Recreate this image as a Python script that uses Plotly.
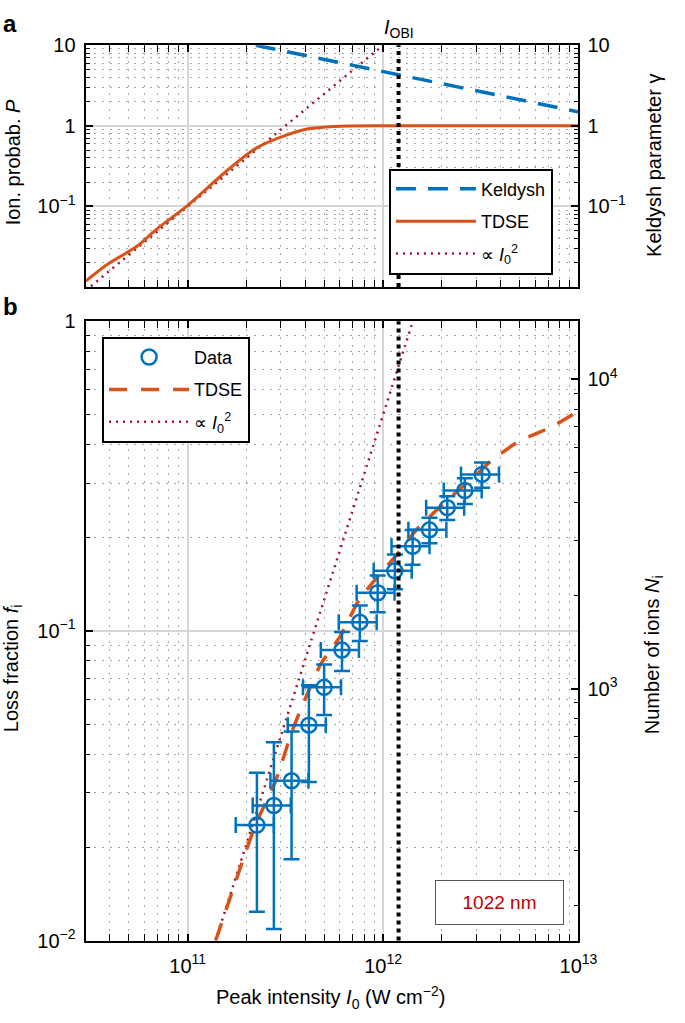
import numpy as np
import plotly.graph_objects as go

# ---------------- data: panel a ----------------
tdse_a_I = [3.0e10, 3.87e10, 4.70e10, 5.64e10, 6.86e10, 1.0e11, 1.58e11, 2.23e11,
            3.04e11, 4.14e11, 6.04e11, 1.0e12, 3.0e12, 1.0e13]
tdse_a_P = [0.0118, 0.019, 0.0252, 0.0334, 0.051, 0.103, 0.275, 0.525,
            0.734, 0.918, 0.99, 1.0, 1.0, 1.0]
keldysh_I = [2.23e11, 1.0e12, 1.0e13]
keldysh_gamma = [10.0, 4.72, 1.49]
prop_a_I = [3.0e10, 1.0e12]
prop_a_P = [0.009, 10.0]

# ---------------- data: panel b ----------------
data_I = [2.26e11, 2.76e11, 3.40e11, 4.17e11, 4.99e11, 6.16e11, 7.60e11, 9.38e11,
          1.148e12, 1.416e12, 1.727e12, 2.13e12, 2.62e12, 3.21e12]
data_f = [0.0236, 0.0273, 0.0328, 0.0496, 0.0657, 0.0867, 0.1067, 0.1328,
          0.1563, 0.1876, 0.212, 0.250, 0.284, 0.320]
data_f_err = [0.0112, 0.0164, 0.0145, 0.0171, 0.0122, 0.0125, 0.014, 0.018,
              0.020, 0.024, 0.020, 0.022, 0.027, 0.030]
data_I_err = [0.50e11, 0.61e11, 0.75e11, 0.92e11, 1.10e11, 1.36e11, 1.67e11, 2.06e11,
              2.53e11, 3.12e11, 3.80e11, 4.69e11, 5.76e11, 7.06e11]
tdse_b_I = [1.39e11, 2.23e11, 2.81e11, 3.47e11, 4.79e11, 6.03e11, 7.59e11, 1.20e12,
            1.48e12, 2.04e12, 3.02e12, 3.55e12, 4.90e12, 7.24e12, 1.0e13]
tdse_b_f = [0.01, 0.0238, 0.0326, 0.0486, 0.078, 0.096, 0.127, 0.179,
            0.212, 0.258, 0.321, 0.353, 0.408, 0.455, 0.512]
prop_b_I = [1.39e11, 1.42e12]
prop_b_f = [0.01, 1.0]

I_OBI = 1.2e12
IONS_PER_UNIT_FRACTION = 15370.0

x_tickvals = [1e11, 1e12, 1e13]
x_ticktext = ["10<sup>11</sup>", "10<sup>12</sup>", "10<sup>13</sup>"]
ya_tickvals = [0.1, 1, 10]
ya_ticktext = ["10<sup>\u22121</sup>", "1", "10"]
yb_tickvals = [0.01, 0.1, 1]
yb_ticktext = ["10<sup>\u22122</sup>", "10<sup>\u22121</sup>", "1"]
yn_tickvals = [1e3, 1e4]
yn_ticktext = ["10<sup>3</sup>", "10<sup>4</sup>"]

# ---------------- style ----------------
W, H = 685, 1023
BLUE = "#0072BD"
ORANGE = "#D95319"
DRED = "#A2142F"
FONT = "Liberation Sans, Arial, Helvetica, sans-serif"


def px(x):
    return x / W


def py(y):
    return 1 - y / H


minor_common = dict(ticks="inside", ticklen=4, tickwidth=1.2, tickcolor="black",
                    dtick="D1", showgrid=True, gridcolor="#a8a8a8",
                    griddash="2px,6px", gridwidth=1.3)
axis_common = dict(type="log", showline=True, linecolor="black", linewidth=2,
                   ticks="inside", ticklen=7, tickwidth=1.5, tickcolor="black",
                   showgrid=True, gridcolor="#d6d6d6", gridwidth=1.5,
                   zeroline=False, tickfont=dict(size=20, color="black", family=FONT),
                   minor=minor_common)

x_range = [np.log10(3e10), 13]

fig = go.Figure()

# panel a
fig.add_trace(go.Scatter(x=prop_a_I, y=prop_a_P, mode="lines", xaxis="x", yaxis="y",
                         line=dict(color=DRED, width=2.5, dash="2px,5px"),
                         name="\u221d <i>I</i><sub>0</sub><sup>2</sup>",
                         legend="legend", legendrank=3, legendgroup="a3"))
fig.add_trace(go.Scatter(x=tdse_a_I, y=tdse_a_P, mode="lines", xaxis="x", yaxis="y",
                         line=dict(color=ORANGE, width=3, shape="spline", smoothing=0.6),
                         name="TDSE", legend="legend", legendrank=2, legendgroup="a2"))
fig.add_trace(go.Scatter(x=keldysh_I, y=keldysh_gamma, mode="lines", xaxis="x", yaxis="y3",
                         line=dict(color=BLUE, width=3.5, dash="20px,12px"),
                         name="Keldysh", legend="legend", legendrank=1, legendgroup="a1"))

# panel b
fig.add_trace(go.Scatter(x=prop_b_I, y=prop_b_f, mode="lines", xaxis="x2", yaxis="y2",
                         line=dict(color=DRED, width=2.5, dash="2px,5px"),
                         name="\u221d <i>I</i><sub>0</sub><sup>2</sup>",
                         legend="legend2", legendrank=3, legendgroup="b3"))
fig.add_trace(go.Scatter(x=tdse_b_I, y=tdse_b_f, mode="lines", xaxis="x2", yaxis="y2",
                         line=dict(color=ORANGE, width=3.5, dash="18px,14px", shape="spline",
                                   smoothing=0.5),
                         name="TDSE", legend="legend2", legendrank=2, legendgroup="b2"))
fig.add_trace(go.Scatter(x=data_I, y=data_f, mode="markers", xaxis="x2", yaxis="y2",
                         marker=dict(symbol="circle-open", size=15, color=BLUE,
                                     line=dict(width=2.5, color=BLUE)),
                         error_y=dict(type="data", array=data_f_err, color=BLUE,
                                      thickness=2.5, width=8),
                         error_x=dict(type="data", array=data_I_err, color=BLUE,
                                      thickness=2.5, width=8),
                         name="Data", legend="legend2", legendrank=1, legendgroup="b1"))
# invisible trace carrying the ion-number axis
fig.add_trace(go.Scatter(x=data_I, y=[f * IONS_PER_UNIT_FRACTION for f in data_f],
                         mode="markers", xaxis="x2", yaxis="y4",
                         marker=dict(opacity=0), showlegend=False, hoverinfo="skip"))

dom_x = [px(88), px(595)]
fig.update_layout(
    width=W, height=H, margin=dict(l=0, r=0, t=0, b=0),
    paper_bgcolor="white", plot_bgcolor="white",
    font=dict(family=FONT, color="black", size=18),
    xaxis=dict(axis_common, domain=dom_x, anchor="y", range=x_range,
               tickvals=x_tickvals, ticktext=x_ticktext, showticklabels=False,
               mirror="allticks"),
    yaxis=dict(axis_common, domain=[py(282), py(35)], anchor="x", range=[-2, 1],
               tickvals=ya_tickvals, ticktext=ya_ticktext, mirror="allticks",
               ticklabelstandoff=4),
    yaxis3=dict(type="log", overlaying="y", side="right", anchor="x", range=[-2, 1],
                tickvals=ya_tickvals, ticktext=ya_ticktext, ticks="", showgrid=False,
                showline=False, zeroline=False, ticklabelstandoff=8,
                tickfont=dict(size=20, color="black", family=FONT)),
    xaxis2=dict(axis_common, domain=dom_x, anchor="y2", range=x_range,
                tickvals=x_tickvals, ticktext=x_ticktext, mirror="allticks",
                ticklabelstandoff=6),
    yaxis2=dict(axis_common, domain=[py(950), py(317)], anchor="x2", range=[-2, 0],
                tickvals=yb_tickvals, ticktext=yb_ticktext, mirror=True,
                ticklabelstandoff=4),
    yaxis4=dict(type="log", overlaying="y2", side="right", anchor="x2",
                range=[np.log10(0.01 * IONS_PER_UNIT_FRACTION), np.log10(IONS_PER_UNIT_FRACTION)],
                tickvals=yn_tickvals, ticktext=yn_ticktext, ticks="inside", ticklen=7,
                tickwidth=1.5, tickcolor="black", showgrid=False, showline=False,
                zeroline=False, ticklabelstandoff=8,
                minor=dict(ticks="inside", ticklen=4, tickwidth=1.2, tickcolor="black",
                           dtick="D1", showgrid=False),
                tickfont=dict(size=20, color="black", family=FONT)),
    legend=dict(x=px(400), y=py(161), xanchor="left", yanchor="top", bgcolor="white",
                bordercolor="black", borderwidth=2, font=dict(size=18, family=FONT),
                itemwidth=80, tracegroupgap=6),
    legend2=dict(x=px(105), y=py(333), xanchor="left", yanchor="top", bgcolor="white",
                 bordercolor="black", borderwidth=2, font=dict(size=18, family=FONT),
                 itemwidth=80, tracegroupgap=6),
    showlegend=True,
)

# I_OBI vertical markers
for xr, yr in [("x", "y domain"), ("x2", "y2 domain")]:
    fig.add_shape(type="line", xref=xr, yref=yr, x0=I_OBI, x1=I_OBI, y0=0, y1=1,
                  line=dict(color="black", width=4, dash="4px,4px"), layer="above")

ann = [
    dict(text="<b>a</b>", x=px(1), y=py(-3), xanchor="left", yanchor="top",
         font=dict(size=24)),
    dict(text="<b>b</b>", x=px(1), y=py(286), xanchor="left", yanchor="top",
         font=dict(size=24)),
    dict(text="<i>I</i><sub>OBI</sub>", x=np.log10(I_OBI), xref="x", y=py(18),
         xanchor="center", yanchor="middle", font=dict(size=20)),
    dict(text="Ion. probab. <i>P</i>", x=px(13), y=py(155), textangle=-90,
         xanchor="center", yanchor="middle", font=dict(size=20)),
    dict(text="Keldysh parameter \u03b3", x=px(672), y=py(158), textangle=-90,
         xanchor="center", yanchor="middle", font=dict(size=20)),
    dict(text="Loss fraction <i>f</i><sub>i</sub>", x=px(13), y=py(672), textangle=-90,
         xanchor="center", yanchor="middle", font=dict(size=20)),
    dict(text="Number of ions <i>N</i><sub>i</sub>", x=px(672), y=py(658), textangle=-90,
         xanchor="center", yanchor="middle", font=dict(size=20)),
    dict(text="Peak intensity <i>I</i><sub>0</sub> (W cm<sup>\u22122</sup>)", x=px(340),
         y=py(1008), xanchor="center", yanchor="middle", font=dict(size=20)),
    dict(text="1022 nm", x=px(513.5), y=py(911.5), xanchor="center", yanchor="middle",
         font=dict(size=19, color="#C00000"), bgcolor="white", bordercolor="#555555",
         borderwidth=1, width=125, height=41),
]
for a in ann:
    a.setdefault("xref", "paper")
    a.setdefault("yref", "paper")
    a["showarrow"] = False
    fig.add_annotation(**a)

fig.write_html("out.html", config={"displayModeBar": False},
               post_script=("document.body.style.margin='0px';"
                            "document.body.style.padding='0px';"
                            "document.documentElement.style.overflow='hidden';"
                            "document.body.style.overflow='hidden';"))
